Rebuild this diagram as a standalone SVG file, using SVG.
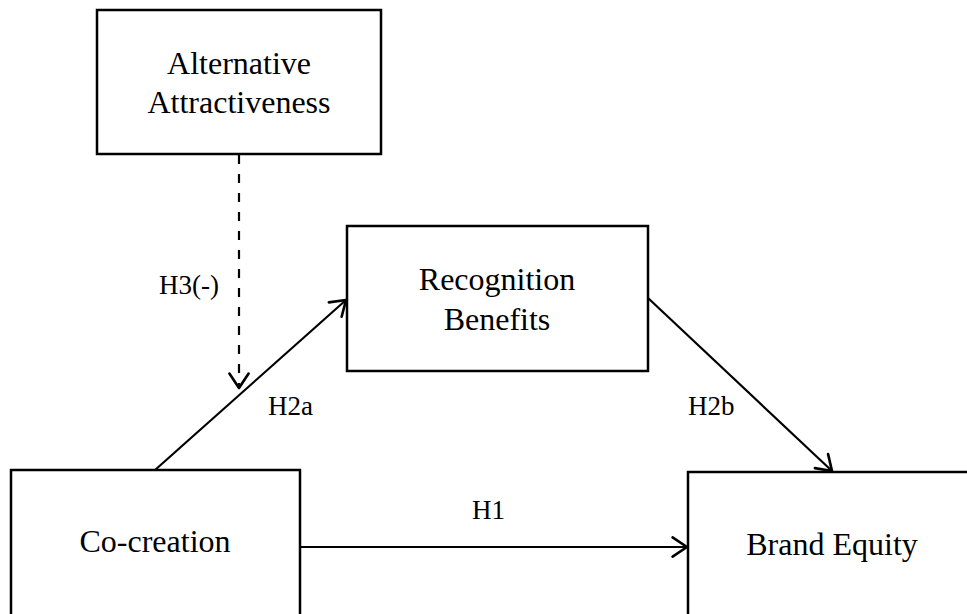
<svg xmlns="http://www.w3.org/2000/svg" width="967" height="614" viewBox="0 0 967 614">
<style>
.box{fill:#fff;stroke:#000;stroke-width:2.5}
.node{font-family:"Liberation Serif","Times New Roman",serif;font-size:32px;fill:#000;text-anchor:middle}
.lbl{font-family:"Liberation Serif","Times New Roman",serif;font-size:27px;fill:#000}
.edge{stroke:#000;stroke-width:2.2;fill:none}
</style>
<defs>
<marker id="arr" markerUnits="userSpaceOnUse" markerWidth="24" markerHeight="24" viewBox="-14 -10 16 20" refX="0" refY="0" orient="auto">
<path d="M-12,-8 L0,0 L-12,8" fill="none" stroke="#000" stroke-width="2.2" stroke-linejoin="round" stroke-linecap="round"/>
</marker>
</defs>
<rect width="967" height="614" fill="#fff"/>
<g id="connectors">
<line class="edge" x1="239" y1="155" x2="239" y2="388" stroke-dasharray="9 10" marker-end="url(#arr)"/>
<line class="edge" x1="155" y1="470" x2="346" y2="300" marker-end="url(#arr)"/>
<line class="edge" x1="648" y1="298" x2="832" y2="471" marker-end="url(#arr)"/>
<line class="edge" x1="300" y1="547" x2="687" y2="547" marker-end="url(#arr)"/>
<text class="lbl" x="159" y="294">H3(-)</text>
<text class="lbl" x="268" y="415">H2a</text>
<text class="lbl" x="688" y="415">H2b</text>
<text class="lbl" x="472" y="519">H1</text>
</g>
<g id="alternative-attractiveness">
<rect class="box" x="97" y="10" width="284" height="144"/>
<text class="node" x="239" y="74">Alternative</text>
<text class="node" x="239" y="113">Attractiveness</text>
</g>
<g id="recognition-benefits">
<rect class="box" x="347" y="226" width="301" height="145"/>
<text class="node" x="497" y="290">Recognition</text>
<text class="node" x="497" y="330">Benefits</text>
</g>
<g id="co-creation">
<rect class="box" x="11" y="470" width="289" height="200"/>
<text class="node" x="155" y="552">Co-creation</text>
</g>
<g id="brand-equity">
<rect class="box" x="688" y="472" width="290" height="200"/>
<text class="node" x="832" y="555">Brand Equity</text>
</g>
</svg>
